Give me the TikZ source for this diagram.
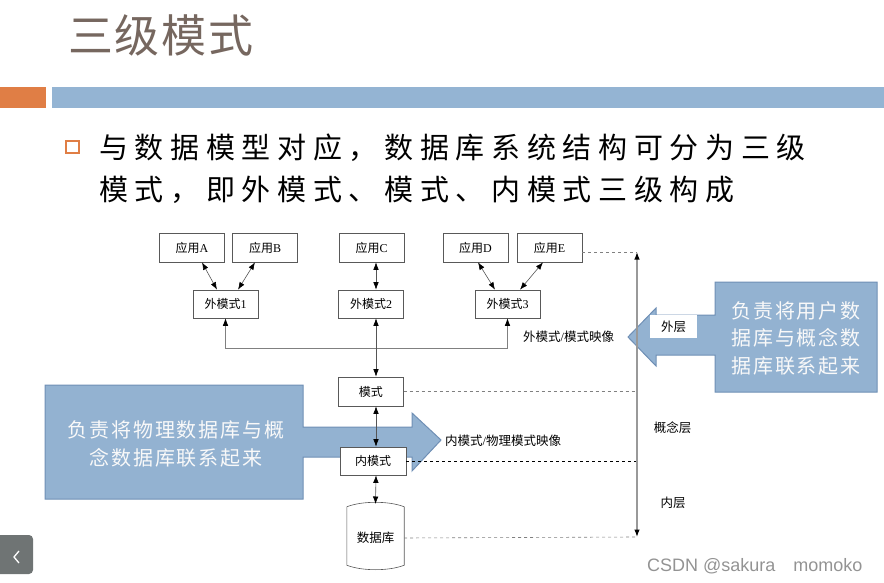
\documentclass[tikz,border=0pt]{standalone}
\usepackage{fontspec}
\setmainfont{Liberation Serif}
\newfontfamily\cjk{Noto Sans CJK SC}
\newfontfamily\cjkbody[LetterSpace=23]{Noto Sans CJK SC}
\newfontfamily\cjkcall[LetterSpace=9]{Noto Sans CJK SC}
\newfontfamily\cjktitle[LetterSpace=4]{Noto Sans CJK SC}
\newfontfamily\wmfont{Liberation Sans}
\newcommand\cj[1]{{\cjk #1}}
\usetikzlibrary{arrows.meta,calc}
\definecolor{titlec}{HTML}{76675F}
\definecolor{orangec}{HTML}{E07E45}
\definecolor{barc}{HTML}{94B4D3}
\definecolor{callc}{HTML}{93B2D1}
\definecolor{calldraw}{HTML}{6F8FB5}
\definecolor{linec}{HTML}{555555}
\definecolor{btnc}{HTML}{6F7474}
\begin{document}
\begin{tikzpicture}[x=1pt,y=-1pt,
  mytip/.tip={Latex[length=7.5pt,width=5.5pt,black]},
  box/.style={draw=gray!70!black, fill=white, line width=0.6pt, inner sep=0pt,
    minimum width=65pt, minimum height=29pt, font=\fontsize{12}{14}\selectfont},
  arr/.style={mytip-mytip, draw=linec, line width=0.6pt},
  dashln/.style={draw=gray, dashed, line width=0.6pt},
  lbl/.style={inner sep=0pt, font=\fontsize{12.5}{14}\selectfont},
  calltext/.style={inner sep=0pt, text=white!95!gray, align=center,
    font=\cjkcall\fontsize{20}{27.5}\selectfont},
  callout/.style={fill=callc, draw=calldraw, line width=1pt}]
\useasboundingbox (0,0) rectangle (884,583);

% header
\node[anchor=west, inner sep=0pt, text=titlec, font=\cjktitle\fontsize{45}{50}\selectfont] (title) at (68,35) {三级模式};
\fill[orangec] (0,87) rectangle (46,108);
\fill[barc] (52,87) rectangle (884,108);
\draw[orangec, line width=1.6pt] (66,141) rectangle (79,153);
\node[anchor=west, inner sep=0pt, font=\cjkbody\fontsize{29}{34}\selectfont] (l1) at (99,148) {与数据模型对应，数据库系统结构可分为三级};
\node[anchor=west, inner sep=0pt, font=\cjkbody\fontsize{29}{34}\selectfont] (l2) at (99,190) {模式，即外模式、模式、内模式三级构成};

% callouts (behind diagram)
\draw[callout] (715,282) -- (877,282) -- (877,392) -- (715,392) -- (715,355) -- (656,355) -- (656,366) -- (628,337) -- (656,308) -- (656,315) -- (715,315) -- cycle;
\draw[callout] (45,385) -- (303,385) -- (303,427) -- (412,427) -- (412,413) -- (441,440) -- (412,471) -- (412,457) -- (303,457) -- (303,499) -- (45,499) -- cycle;
\node[calltext] (rt) at (796,338) {负责将用户数\\据库与概念数\\据库联系起来};
\node[calltext] (lt) at (176,444) {负责将物理数据库与概\\念数据库联系起来};
\node[fill=white, inner sep=0pt, minimum width=47pt, minimum height=23pt, font=\cjk\fontsize{12.5}{14}\selectfont] (wl) at (673.5,326.5) {外层};

% boxes
\node[box] (A) at (192,247.5) {\cj{应用}A};
\node[box] (B) at (265,247.5) {\cj{应用}B};
\node[box] (C) at (371.5,247.5) {\cj{应用}C};
\node[box] (D) at (475.5,247.5) {\cj{应用}D};
\node[box] (E) at (549.5,247.5) {\cj{应用}E};
\node[box, minimum height=28pt] (o1) at (225.5,304) {\cj{外模式}1};
\node[box, minimum height=28pt] (o2) at (371,304) {\cj{外模式}2};
\node[box, minimum height=28pt] (o3) at (507.5,304) {\cj{外模式}3};
\node[box] (m) at (370.8,391.5) {\cj{模式}};
\node[box, minimum width=66pt, minimum height=28pt] (n) at (373,461) {\cj{内模式}};
\node[inner sep=0pt, minimum width=57pt, minimum height=68pt] (db) at (375.5,536) {};
\draw[draw=gray!70!black, fill=white, line width=0.6pt]
  (db.north west) ++(0,5) .. controls ++(15,-6) and ++(-15,-6) .. ($(db.north east)+(0,5)$)
  -- ($(db.south east)+(0,-5)$) .. controls ++(-15,6) and ++(15,6) .. ($(db.south west)+(0,-5)$) -- cycle;
\node[inner sep=0pt, font=\cjk\fontsize{12.5}{14}\selectfont] (dbt) at (375.5,538) {数据库};

% connectors
\coordinate (vx) at (376,0);
\draw[arr] ($(A.south)+(10,0)$) -- ($(o1.north)+(-8.5,0)$);
\draw[arr] ($(B.south)+(-10,0)$) -- ($(o1.north)+(12.5,0)$);
\draw[arr] (vx |- C.south) -- (vx |- o2.north);
\draw[arr] ($(D.south)+(2.5,0)$) -- ($(o3.north)+(-12.5,0)$);
\draw[arr] ($(E.south)+(-6.5,0)$) -- ($(o3.north)+(12.5,0)$);
\draw[arr, draw=gray] (o1.south) -- ++(0,30) -| (o3.south);
\draw[arr] (vx |- o2.south) -- (vx |- m.north);
\draw[arr] (vx |- m.south) -- (vx |- n.north);
\draw[arr] (vx |- n.south) -- (375.5,504);

% layer line and dashed lines
\coordinate (vt) at (637,252);
\coordinate (vb) at (637,537);
\draw[dashln] (E.east |- vt) -- (vt);
\draw[dashln] (m.east) -- (vt |- m.east);
\draw[dashed, draw=black, line width=0.6pt] (n.east) -- (vt |- n.east);
\draw[dashln] (404,538) -- (vb);
\draw[mytip-mytip, draw=gray!80, line width=1.2pt] (vt) -- (vb);

% labels
\node[lbl, anchor=west] (mm1) at (523,337) {\cj{外模式}/\cj{模式映像}};
\node[lbl, anchor=west] (mm2) at (445,441) {\cj{内模式}/\cj{物理模式映像}};
\node[lbl] (cl) at (672.5,428) {\cj{概念层}};
\node[lbl] (il) at (673,503) {\cj{内层}};

% slide button and watermark
\fill[btnc, rounded corners=4pt] (-5,535) rectangle (33,574);
\draw[white, line width=1.3pt] (19,551) -- (14,557) -- (19,563);
\node[anchor=west, inner sep=0pt, text=gray!85, font=\wmfont\fontsize{18}{20}\selectfont] (wm) at (647,566) {CSDN @sakura\hspace{1em}momoko};
\end{tikzpicture}
\end{document}
